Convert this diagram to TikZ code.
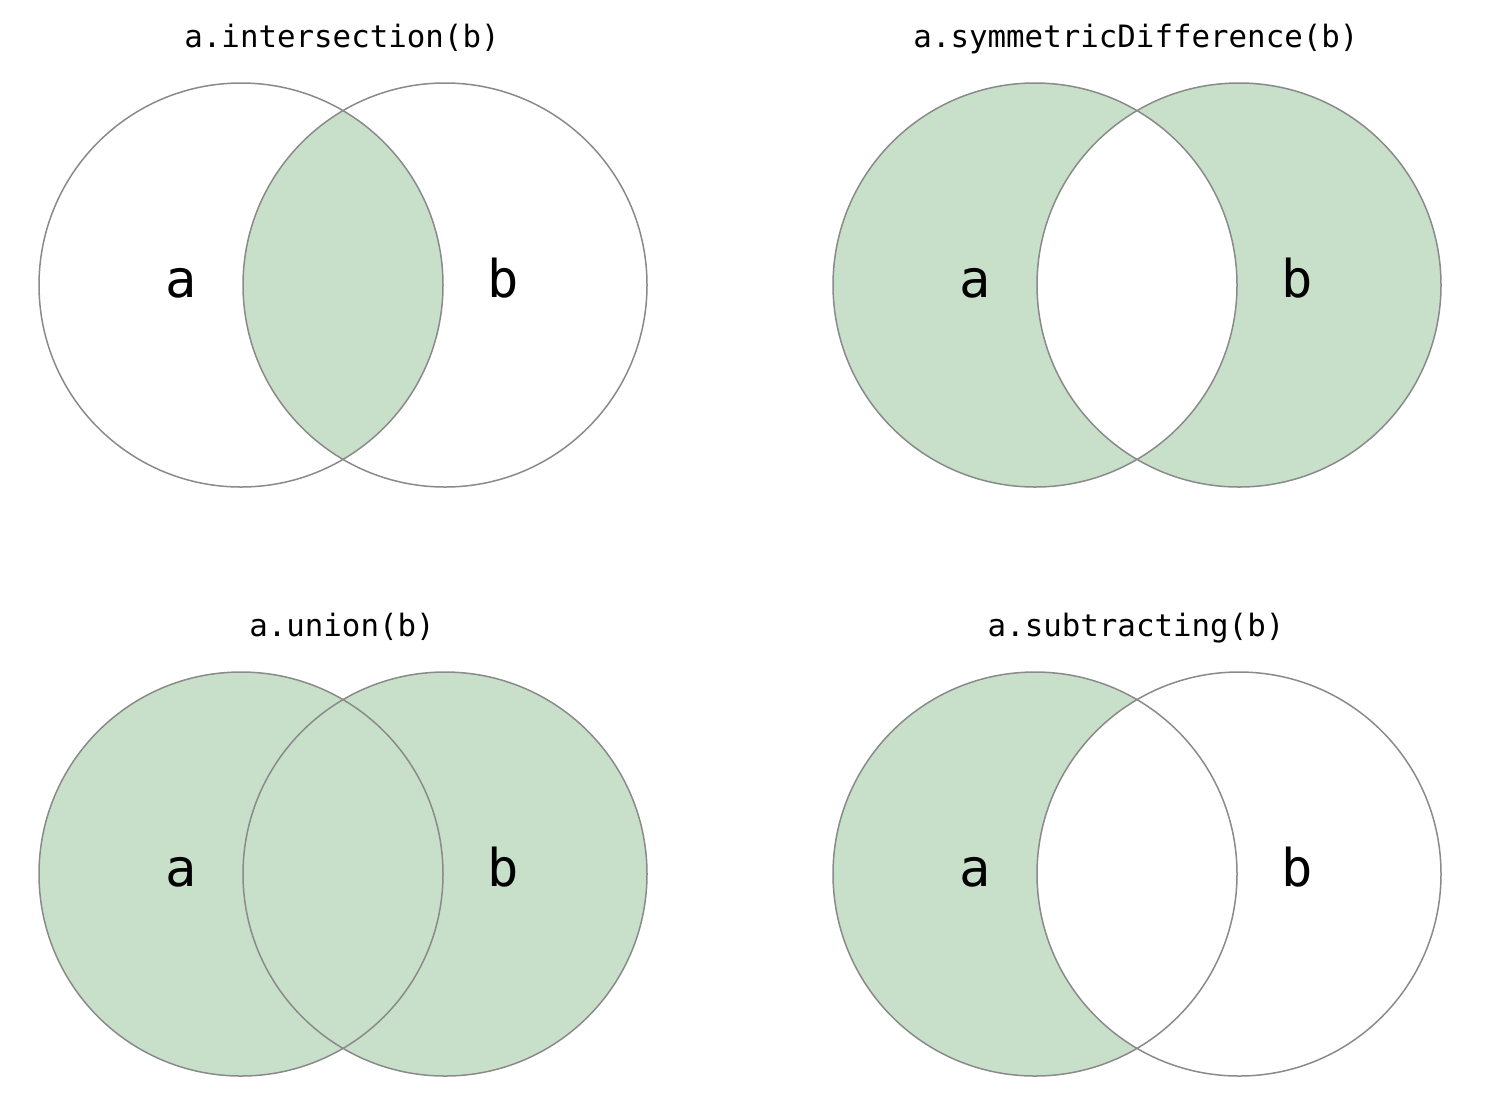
\documentclass[tikz,border=0pt]{standalone}
\usepackage{fontspec}
\setmonofont{DejaVu Sans Mono}
\definecolor{SetGreen}{HTML}{C8E0C9}
\definecolor{SetLine}{HTML}{8A8A8A}

\begin{document}
\begin{tikzpicture}[
        x=0.5pt, y=-0.5pt,
        ring/.style={draw=SetLine, line width=0.75pt},
        part/.style={fill=SetGreen},
        title/.style={font=\ttfamily\fontsize{15.4}{18}\selectfont, anchor=base},
        setname/.style={font=\ttfamily\fontsize{26}{30}\selectfont, anchor=base}
    ]
        \useasboundingbox (0,0) rectangle (1498,1100);
        % intersection
        \begin{scope}[shift={(0,0)}]
            \coordinate (ia) at (241,285);
            \coordinate (ib) at (445,285);
            \begin{scope}
                \clip (ia) circle (202);
                \fill[part] (ib) circle (202);
            \end{scope}
            \draw[ring] (ia) circle (202) (ib) circle (202);
            \node[title] (ititle) at (342,47) {a.intersection(b)};
            \node[setname] (iname-a) at (181,297) {a};
            \node[setname] (iname-b) at (503,297) {b};
        \end{scope}
        % symmetric difference
        \begin{scope}[shift={(794,0)}]
            \coordinate (da) at (241,285);
            \coordinate (db) at (445,285);
            \fill[part, even odd rule] (da) circle (202) (db) circle (202);
            \draw[ring] (da) circle (202) (db) circle (202);
            \node[title] (dtitle) at (342,47) {a.symmetricDifference(b)};
            \node[setname] (dname-a) at (181,297) {a};
            \node[setname] (dname-b) at (503,297) {b};
        \end{scope}
        % union
        \begin{scope}[shift={(0,589)}]
            \coordinate (ua) at (241,285);
            \coordinate (ub) at (445,285);
            \fill[part] (ua) circle (202) (ub) circle (202);
            \draw[ring] (ua) circle (202) (ub) circle (202);
            \node[title] (utitle) at (342,47) {a.union(b)};
            \node[setname] (uname-a) at (181,297) {a};
            \node[setname] (uname-b) at (503,297) {b};
        \end{scope}
        % subtracting
        \begin{scope}[shift={(794,589)}]
            \coordinate (sa) at (241,285);
            \coordinate (sb) at (445,285);
            \begin{scope}
                \clip (sa) circle (202);
                \fill[part, even odd rule] (sa) circle (202) (sb) circle (202);
            \end{scope}
            \draw[ring] (sa) circle (202) (sb) circle (202);
            \node[title] (stitle) at (342,47) {a.subtracting(b)};
            \node[setname] (sname-a) at (181,297) {a};
            \node[setname] (sname-b) at (503,297) {b};
        \end{scope}
    \end{tikzpicture}
\end{document}
